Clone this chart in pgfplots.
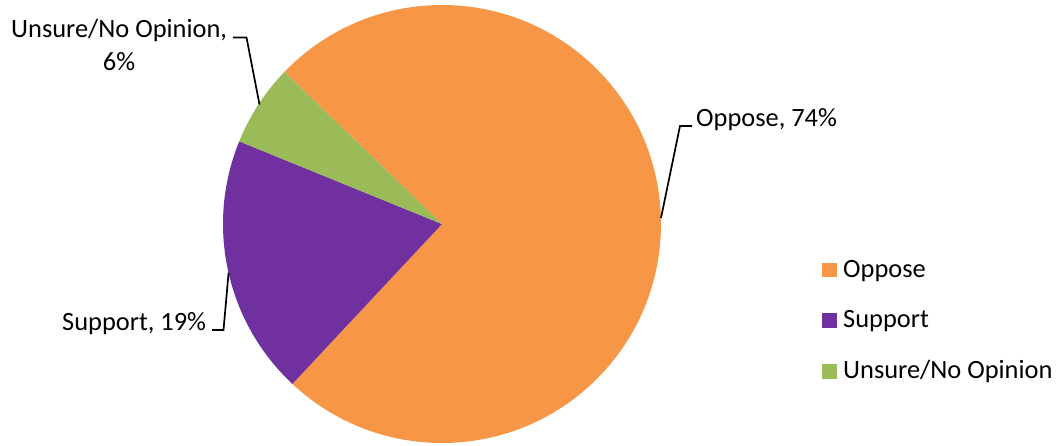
\documentclass[border=0pt]{standalone}
\usepackage{pgfplots}
\usepackage{pgfplotstable}
\pgfplotsset{compat=1.18}
\usepackage{fontspec}
\setmainfont{Carlito}
\definecolor{cOppose}{HTML}{F79646}
\definecolor{cSupport}{HTML}{7030A0}
\definecolor{cUnsure}{HTML}{9BBB59}

\pgfplotstableread[col sep=comma]{
label,value
Oppose,74
Support,19
Unsure/No Opinion,6
}\piedata

\begin{document}
\begin{tikzpicture}
\pgfplotstablegetelem{0}{value}\of\piedata \edef\vA{\pgfplotsretval}
\pgfplotstablegetelem{1}{value}\of\piedata \edef\vB{\pgfplotsretval}
\pgfplotstablegetelem{2}{value}\of\piedata \edef\vC{\pgfplotsretval}
\pgfmathsetmacro\tot{\vA+\vB+\vC}
\pgfmathsetmacro\aZ{136}
\pgfmathsetmacro\aA{\aZ-360*(\vA/\tot)}
\pgfmathsetmacro\aB{\aA-360*(\vB/\tot)}
\pgfmathsetmacro\aC{\aB-360*(\vC/\tot)}
\begin{axis}[
  x=1pt, y=1pt,
  xmin=0, xmax=1060, ymin=0, ymax=445,
  y dir=reverse,
  hide axis, clip=false,
  scale only axis,
  xtick=\empty, ytick=\empty,
]
\path (axis cs:0,0) rectangle (axis cs:1060,445);
% pie wedges
\fill[cOppose] (axis cs:442,224) -- ++(\aZ:219pt) arc[start angle=\aZ, end angle=\aA, radius=219pt] -- cycle;
\fill[cSupport] (axis cs:442,224) -- ++(\aA:219pt) arc[start angle=\aA, end angle=\aB, radius=219pt] -- cycle;
\fill[cUnsure] (axis cs:442,224) -- ++(\aB:219pt) arc[start angle=\aB, end angle=\aC, radius=219pt] -- cycle;
% leader lines
\draw[black, line width=1.7pt] (axis cs:661,218) -- (axis cs:680,126) -- (axis cs:692,126);
\draw[black, line width=1.7pt] (axis cs:233,37.5) -- (axis cs:246.5,37.5) -- (axis cs:259.5,104.5);
\draw[black, line width=1.7pt] (axis cs:212,330) -- (axis cs:223.5,330) -- (axis cs:228.6,272.7);
% data labels
\node[anchor=base west, inner sep=0pt, font=\fontsize{26.4}{31}\selectfont] at (axis cs:696,126) {Oppose, 74\%};
\node[anchor=base west, inner sep=0pt, font=\fontsize{26.4}{31}\selectfont] at (axis cs:11,37.5) {Unsure/No Opinion,};
\node[anchor=base, inner sep=0pt, font=\fontsize{26.4}{31}\selectfont] at (axis cs:119,70) {6\%};
\node[anchor=base west, inner sep=0pt, font=\fontsize{26.4}{31}\selectfont] at (axis cs:62,330) {Support, 19\%};
% legend
\fill[cOppose] (axis cs:822,262.5) rectangle (axis cs:837,277);
\fill[cSupport] (axis cs:822,313) rectangle (axis cs:837,327.5);
\fill[cUnsure] (axis cs:822,364) rectangle (axis cs:837,378.5);
\node[anchor=base west, inner sep=0pt, font=\fontsize{26.4}{31}\selectfont] at (axis cs:843,277) {Oppose};
\node[anchor=base west, inner sep=0pt, font=\fontsize{26.4}{31}\selectfont] at (axis cs:843,327.5) {Support};
\node[anchor=base west, inner sep=0pt, font=\fontsize{26.4}{31}\selectfont] at (axis cs:843,378.5) {Unsure/No Opinion};
\end{axis}
\pgfresetboundingbox
\path (current axis.south west) rectangle (current axis.north east);
\end{tikzpicture}
\end{document}
